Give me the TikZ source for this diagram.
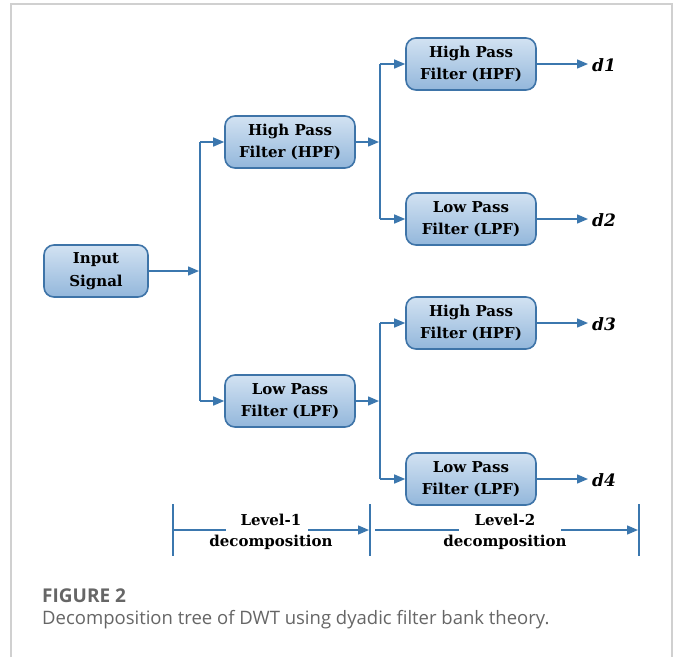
\documentclass[tikz,border=0pt]{standalone}
\usepackage{fontspec}
\setmainfont{DejaVu Serif}
\newfontfamily\capfont{Open Sans}
\usetikzlibrary{arrows.meta,positioning}
\definecolor{lineblue}{HTML}{3B77AE}
\definecolor{boxedge}{HTML}{3E74A8}
\definecolor{boxtop}{HTML}{D2E2F2}
\definecolor{boxbot}{HTML}{93B7DB}
\definecolor{framegray}{HTML}{D0D0D0}
\definecolor{capgray}{HTML}{666666}
\tikzset{
  filt/.style={draw=boxedge, line width=1.6pt, rounded corners=10pt,
    top color=boxtop, bottom color=boxbot, minimum width=130pt, minimum height=52pt,
    align=center, font=\fontsize{15}{22.5}\selectfont\bfseries, inner sep=0pt},
  conn/.style={draw=lineblue, line width=1.4pt},
  arr/.style={conn, -{Triangle[length=11pt,width=9pt]}},
  dlab/.style={font=\fontsize{17}{20}\selectfont\bfseries\itshape, anchor=west, inner sep=0pt},
  lev/.style={align=center, font=\fontsize{15}{21.5}\selectfont\bfseries, inner sep=0pt}
}
\begin{document}
\begin{tikzpicture}[x=1pt,y=-1pt]
\useasboundingbox (0,0) rectangle (680,657);
\fill[white] (0,0) rectangle (680,657);
\draw[framegray, line width=1.5pt] (11,657) -- (11,4) -- (672,4) -- (672,657);

\node[filt, minimum width=104pt] (in) at (96,271) {Input\\Signal};
\node[filt] (h1) at (290,142) {High Pass\\Filter (HPF)};
\node[filt] (l1) at (290,401) {Low Pass\\Filter (LPF)};
\node[filt] (hh) at (471,64) {High Pass\\Filter (HPF)};
\node[filt] (hl) at (471,219) {Low Pass\\Filter (LPF)};
\node[filt] (lh) at (471,323) {High Pass\\Filter (HPF)};
\node[filt] (ll) at (471,479) {Low Pass\\Filter (LPF)};

\coordinate (b1) at (200,271);
\coordinate (b1t) at (200,142);
\coordinate (b1b) at (200,401);
\coordinate (b2) at (380,142);
\coordinate (b2t) at (380,64);
\coordinate (b2b) at (380,219);
\coordinate (b3) at (380,401);
\coordinate (b3t) at (380,323);
\coordinate (b3b) at (380,479);

\draw[arr] (in.east) -- ([xshift=-1pt]b1);
\draw[conn] (b1t) -- (b1b);
\draw[arr] (b1t) -- (h1.west);
\draw[arr] (b1b) -- (l1.west);

\draw[arr] (h1.east) -- ([xshift=-1pt]b2);
\draw[conn] (b2t) -- (b2b);
\draw[arr] (b2t) -- (hh.west);
\draw[arr] (b2b) -- (hl.west);

\draw[arr] (l1.east) -- ([xshift=-1pt]b3);
\draw[conn] (b3t) -- (b3b);
\draw[arr] (b3t) -- (lh.west);
\draw[arr] (b3b) -- (ll.west);

\node[dlab] (d1) at (592,65) {d1};
\node[dlab] (d2) at (592,220) {d2};
\node[dlab] (d3) at (592,324) {d3};
\node[dlab] (d4) at (592,480) {d4};
\draw[arr] (hh.east) -- ([xshift=-4pt]d1.west |- hh.east);
\draw[arr] (hl.east) -- ([xshift=-4pt]d2.west |- hl.east);
\draw[arr] (lh.east) -- ([xshift=-4pt]d3.west |- lh.east);
\draw[arr] (ll.east) -- ([xshift=-4pt]d4.west |- ll.east);

% level brackets
\coordinate (t1a) at (173,504); \coordinate (t1b) at (173,556);
\coordinate (t2a) at (370,504); \coordinate (t2b) at (370,556);
\coordinate (t3a) at (639,504); \coordinate (t3b) at (639,556);
\draw[conn] (t1a) -- (t1b);
\draw[conn] (t2a) -- (t2b);
\draw[conn] (t3a) -- (t3b);
\node[lev] (lv1) at (271,532) {Level-1\\decomposition};
\node[lev] (lv2) at (505,532) {Level-2\\decomposition};
\draw[conn] (173,530) -- (226,530);
\draw[arr] (308,530) -- (369,530);
\draw[conn] (375,530) -- (459,530);
\draw[arr] (561,530) -- (638,530);

\node[anchor=base west, inner sep=0pt, text=capgray, font=\capfont\fontsize{19}{22}\selectfont\bfseries] (fig) at (42,602) {FIGURE 2};
\node[anchor=base west, inner sep=0pt, text=capgray, font=\capfont\fontsize{18.5}{22}\selectfont] (cap) at (42,624) {Decomposition tree of DWT using dyadic filter bank theory.};
\end{tikzpicture}
\end{document}
